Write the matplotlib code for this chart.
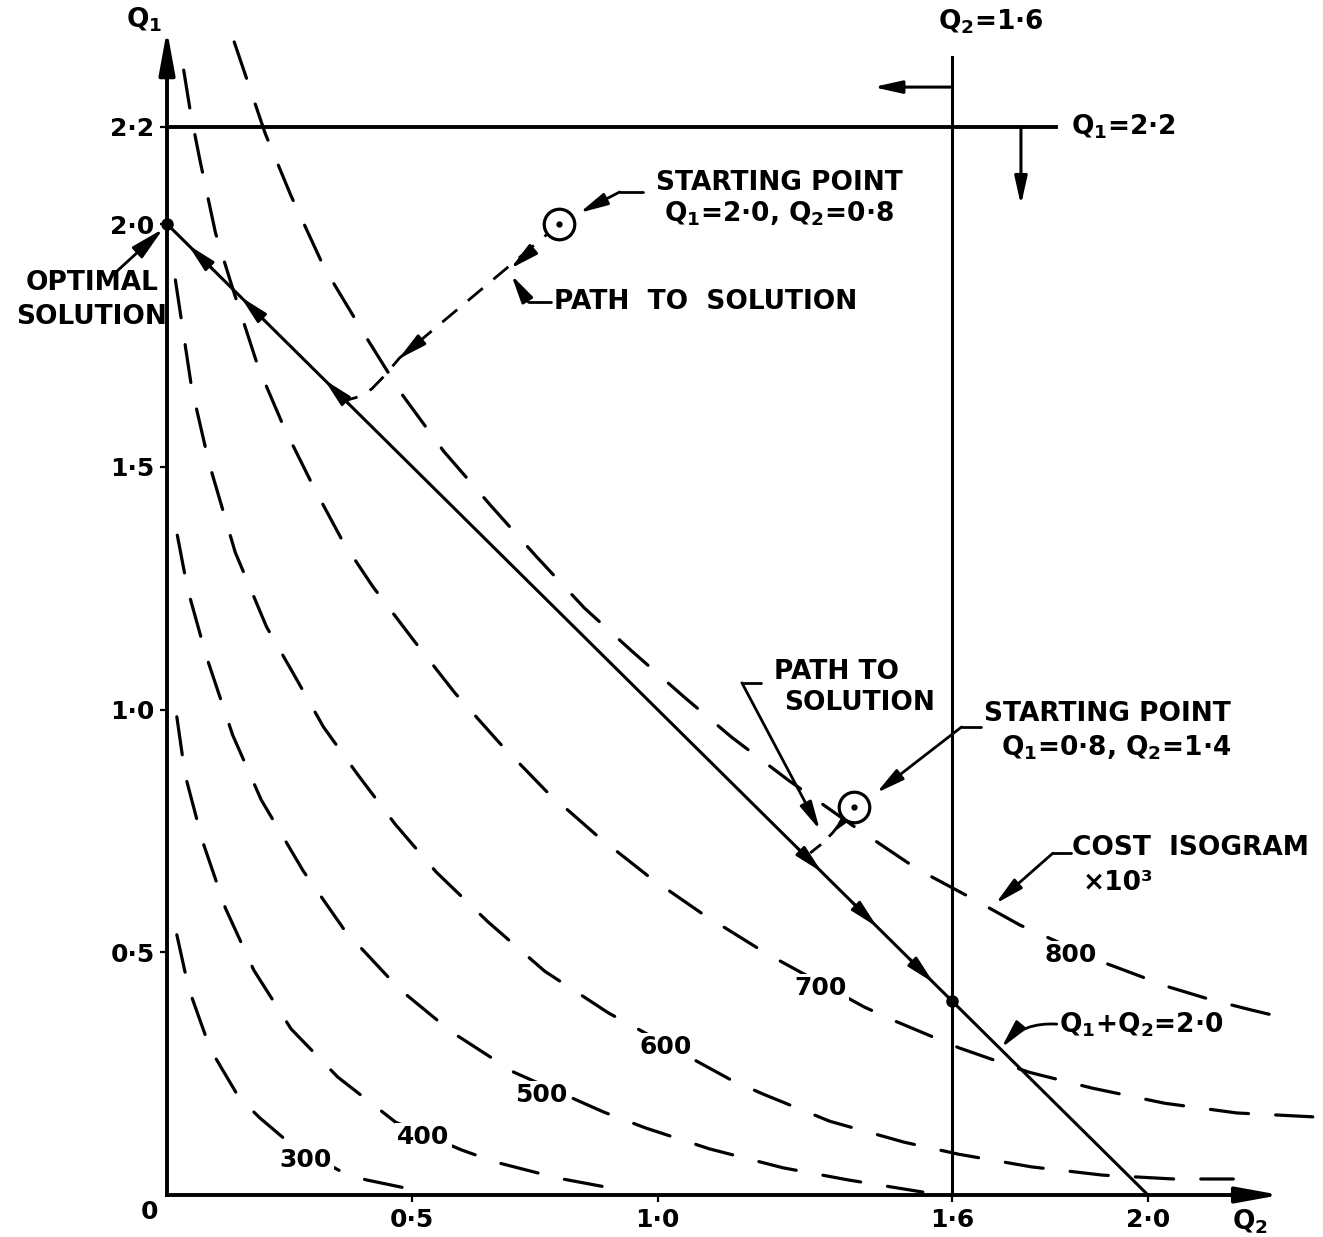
import matplotlib
matplotlib.use('Agg')
import matplotlib.pyplot as plt

plt.rcParams['font.family'] = ['DejaVu Sans']
plt.rcParams['mathtext.default'] = 'regular'

# ---------------- data (Q2 on x axis, Q1 on y axis) ----------------
iso_costs = [300, 400, 500, 600, 700, 800]

iso300_q2 = [0.020, 0.044, 0.088, 0.146, 0.189, 0.252, 0.365, 0.407, 0.526]
iso300_q1 = [0.536, 0.426, 0.301, 0.202, 0.159, 0.105, 0.043, 0.031, 0.006]

iso400_q2 = [0.020, 0.037, 0.073, 0.119, 0.177, 0.253, 0.348, 0.466, 0.600, 0.669, 0.796, 0.918]
iso400_q1 = [0.985, 0.865, 0.727, 0.591, 0.463, 0.342, 0.243, 0.150, 0.093, 0.068, 0.035, 0.012]

iso500_q2 = [0.021, 0.042, 0.080, 0.134, 0.192, 0.278, 0.363, 0.474, 0.580, 0.707, 0.890, 0.976,
             1.106, 1.256, 1.389, 1.541]
iso500_q1 = [1.359, 1.248, 1.110, 0.947, 0.814, 0.667, 0.544, 0.424, 0.336, 0.253, 0.171, 0.138,
             0.095, 0.056, 0.031, 0.006]

iso600_q2 = [0.017, 0.050, 0.085, 0.139, 0.203, 0.257, 0.319, 0.388, 0.465, 0.549, 0.655, 0.770,
             0.900, 1.150, 1.215, 1.351, 1.502, 1.614, 1.762, 1.907, 2.052, 2.174]
iso600_q1 = [1.885, 1.664, 1.510, 1.324, 1.170, 1.075, 0.964, 0.867, 0.764, 0.665, 0.562, 0.461,
             0.375, 0.237, 0.208, 0.152, 0.109, 0.084, 0.058, 0.041, 0.033, 0.033]

iso700_q2 = [0.034, 0.048, 0.067, 0.099, 0.133, 0.186, 0.239, 0.299, 0.359, 0.419, 0.504, 0.587,
             0.678, 0.773, 0.878, 0.986, 1.089, 1.221, 1.422, 1.485, 1.615, 1.757, 1.887, 2.034,
             2.181, 2.336]
iso700_q1 = [2.317, 2.229, 2.132, 1.981, 1.870, 1.705, 1.580, 1.458, 1.345, 1.254, 1.141, 1.034,
             0.931, 0.832, 0.739, 0.653, 0.581, 0.498, 0.387, 0.358, 0.303, 0.253, 0.220, 0.189,
             0.169, 0.161]

iso800_q2 = [0.137, 0.200, 0.252, 0.320, 0.401, 0.477, 0.564, 0.661, 0.754, 0.851, 0.948, 1.054,
             1.151, 1.266, 1.408, 1.530, 1.632, 1.739, 1.912, 2.044, 2.129, 2.211, 2.298]
iso800_q1 = [2.375, 2.187, 2.060, 1.911, 1.775, 1.652, 1.532, 1.419, 1.314, 1.209, 1.120, 1.026,
             0.943, 0.855, 0.754, 0.671, 0.616, 0.556, 0.478, 0.428, 0.402, 0.381, 0.360]

iso_label_q2 = [0.282, 0.523, 0.762, 1.017, 1.333, 1.842]
iso_label_q1 = [0.072, 0.119, 0.206, 0.305, 0.426, 0.494]

q1_limit = 2.2          # Q1 = 2.2 constraint
q2_limit = 1.6          # Q2 = 1.6 constraint
q_sum = 2.0             # Q1 + Q2 = 2.0 constraint

optimum = (0.0, 2.0)            # (Q2, Q1)
corner = (1.6, 0.4)
start1 = (0.8, 2.0)
start2 = (1.4, 0.8)

path1_q2 = [0.80, 0.474, 0.443, 0.417, 0.390, 0.366]
path1_q1 = [2.00, 1.724, 1.687, 1.660, 1.644, 1.637]
path2_q2 = [1.40, 1.357, 1.337, 1.317, 1.301]
path2_q1 = [0.80, 0.746, 0.725, 0.709, 0.696]

x_ticks = [0.5, 1.0, 1.6, 2.0]
x_ticklabels = ['0·5', '1·0', '1·6', '2·0']
y_ticks = [0.5, 1.0, 1.5, 2.0, 2.2]
y_ticklabels = ['0·5', '1·0', '1·5', '2·0', '2·2']

# ---------------- figure ----------------
fig = plt.figure(figsize=(13.23, 12.37), dpi=100)
ax = fig.add_axes([0, 0, 1, 1])
ax.set_xlim(-0.3405, 2.3568)
ax.set_ylim(-0.0865, 2.4614)

FS = 19      # lettering
FN = 18      # isogram numbers
FT = 18      # tick labels
K = 'black'
TXT = dict(fontsize=FS, fontweight='bold', color=K)

for s in ['top', 'right']:
    ax.spines[s].set_visible(False)
ax.spines['left'].set_position(('data', 0))
ax.spines['bottom'].set_position(('data', 0))
ax.spines['left'].set_bounds(0, 2.36)
ax.spines['bottom'].set_bounds(0, 2.22)
ax.spines['left'].set_linewidth(2.8)
ax.spines['bottom'].set_linewidth(2.8)
ax.set_xticks(x_ticks, x_ticklabels)
ax.set_yticks(y_ticks, y_ticklabels)
ax.tick_params(axis='x', direction='out', length=5, width=1.6, pad=4, labelsize=FT)
ax.tick_params(axis='y', direction='out', length=5, width=1.6, pad=4, labelsize=FT)
for lab in ax.get_xticklabels() + ax.get_yticklabels():
    lab.set_fontweight('bold')

head = '-|>,head_length=1.7,head_width=0.38'


def arrow(tip, tail, lw=2.0, ms=10, style=head):
    ax.annotate('', xy=tip, xytext=tail,
                arrowprops=dict(arrowstyle=style, mutation_scale=ms, lw=lw, color=K,
                                shrinkA=0, shrinkB=0), zorder=6)


# axis arrowheads
arrow((0, 2.40), (0, 2.30), lw=2.8, ms=12, style='-|>,head_length=2.2,head_width=0.4')
arrow((2.27, 0), (2.17, 0), lw=2.8, ms=12, style='-|>,head_length=2.2,head_width=0.4')
ax.text(-0.035, -0.034, '0', ha='center', va='center', fontsize=FT, fontweight='bold', color=K)
ax.text(2.208, -0.056, r'$\mathbf{Q_2}$', ha='center', va='center', fontsize=FS, color=K)
ax.text(-0.047, 2.420, r'$\mathbf{Q_1}$', ha='center', va='center', fontsize=FS, color=K)

# cost isograms
iso_q2 = [iso300_q2, iso400_q2, iso500_q2, iso600_q2, iso700_q2, iso800_q2]
iso_q1 = [iso300_q1, iso400_q1, iso500_q1, iso600_q1, iso700_q1, iso800_q1]
for c, xs, ys, lx, ly in zip(iso_costs, iso_q2, iso_q1, iso_label_q2, iso_label_q1):
    ax.plot(xs, ys, color=K, lw=2.3, dashes=(12, 8.5), dash_capstyle='round', zorder=2)
    ax.text(lx, ly, str(c), ha='center', va='center', zorder=4, fontsize=FN,
            fontweight='bold', color=K,
            bbox=dict(facecolor='white', edgecolor='none', pad=1.5))

# constraint lines
ax.plot([0, 1.812], [q1_limit, q1_limit], color=K, lw=2.8, zorder=3)
ax.plot([q2_limit, q2_limit], [0, 2.344], color=K, lw=2.2, zorder=3)
ax.plot([0, q_sum], [q_sum, 0], color=K, lw=2.2, zorder=3)
arrow((1.44, 2.282), (q2_limit, 2.282), lw=2.2)
arrow((1.741, 2.039), (1.741, q1_limit), lw=2.2)
ax.text(1.68, 2.416, r'$\mathbf{Q_2}$=1·6', ha='center', va='center', **TXT)
ax.text(1.843, 2.2, r'$\mathbf{Q_1}$=2·2', ha='left', va='center', **TXT)

# direction arrows on the Q1+Q2=2 line
for t in [0.043, 0.15, 0.321]:
    arrow((t, q_sum - t), (t + 0.05, q_sum - t - 0.05))
for t in [1.335, 1.448, 1.563]:
    arrow((t, q_sum - t), (t - 0.05, q_sum - t + 0.05))

# points
ax.plot(*optimum, 'o', color=K, ms=8, zorder=7)
ax.plot(*corner, 'o', color=K, ms=8, zorder=7)
for sp in [start1, start2]:
    ax.plot(*sp, 'o', mfc='white', mec=K, mew=2.3, ms=22, zorder=7)
    ax.plot(*sp, 'o', color=K, ms=3.5, zorder=8)

# paths to solution
ax.plot(path1_q2, path1_q1, color=K, lw=2.0, dashes=(7, 5), zorder=3)
ax.plot(path2_q2, path2_q1, color=K, lw=2.0, dashes=(5, 4), zorder=3)
arrow((0.700, 1.908), (0.74, 1.942))
arrow((0.472, 1.722), (0.51, 1.754))
arrow((1.357, 0.746), (1.38, 0.772), ms=9)


def lead(pts, lw=2.0):
    xs = [p[0] for p in pts[:-1]]
    ys = [p[1] for p in pts[:-1]]
    ax.plot(xs, ys, color=K, lw=lw, zorder=6, solid_capstyle='round')
    arrow(pts[-1], pts[-2], lw=lw)


# annotations
ax.text(-0.153, 1.878, 'OPTIMAL', ha='center', va='center', **TXT)
ax.text(-0.153, 1.808, 'SOLUTION', ha='center', va='center', **TXT)
arrow((-0.008, 1.99), (-0.104, 1.901), ms=12)

ax.text(1.248, 2.085, 'STARTING POINT', ha='center', va='center', **TXT)
ax.text(1.248, 2.022, r'$\mathbf{Q_1}$=2·0, $\mathbf{Q_2}$=0·8', ha='center', va='center', **TXT)
lead([(0.970, 2.066), (0.923, 2.066), (0.841, 2.023)])

ax.text(0.789, 1.839, 'PATH  TO  SOLUTION', ha='left', va='center', **TXT)
lead([(0.783, 1.839), (0.737, 1.839), (0.702, 1.895)])

ax.text(1.238, 1.078, 'PATH TO', ha='left', va='center', **TXT)
ax.text(1.258, 1.013, 'SOLUTION', ha='left', va='center', **TXT)
lead([(1.211, 1.055), (1.172, 1.055), (1.331, 0.752)])

ax.text(1.665, 0.990, 'STARTING POINT', ha='left', va='center', **TXT)
ax.text(1.70, 0.922, r'$\mathbf{Q_1}$=0·8, $\mathbf{Q_2}$=1·4', ha='left', va='center', **TXT)
lead([(1.659, 0.964), (1.620, 0.964), (1.446, 0.828)])

ax.text(1.846, 0.715, 'COST  ISOGRAM', ha='left', va='center', **TXT)
ax.text(1.867, 0.642, '×10³', ha='left', va='center', **TXT)
lead([(1.843, 0.704), (1.806, 0.704), (1.689, 0.600)])

ax.text(1.819, 0.350, r'$\mathbf{Q_1}$+$\mathbf{Q_2}$=2·0', ha='left', va='center', **TXT)
ax.annotate('', xy=(1.701, 0.303), xytext=(1.814, 0.352),
            arrowprops=dict(arrowstyle=head, mutation_scale=10, lw=2.0, color=K,
                            shrinkA=0, shrinkB=0, connectionstyle='arc3,rad=0.25'), zorder=6)

fig.savefig('out.png', dpi=100)
